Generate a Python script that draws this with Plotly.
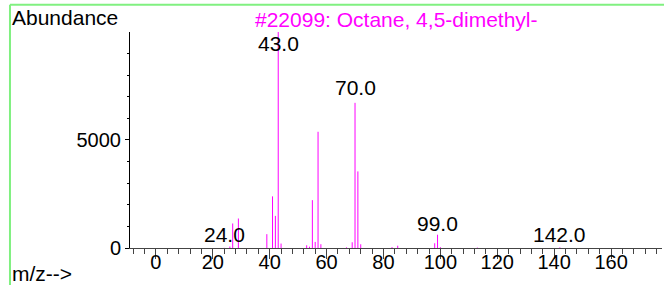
import plotly.graph_objects as go

# Mass spectrum peaks (m/z, abundance)
mz = [24, 26, 27, 29, 39, 41, 42, 43, 44, 53, 54, 55, 56, 57, 58, 67, 69, 70, 71, 72, 83, 85, 98, 99, 100, 113, 142]
abundance = [8, 70, 1135, 1365, 640, 2390, 1485, 9999, 205, 125, 60, 2215, 280, 5380, 175, 30, 265, 6720, 3545, 172, 40, 105, 220, 615, 40, 20, 30]

# Labelled peaks
label_mz = [24, 43, 70, 99, 142]

x_tick_vals = [0, 20, 40, 60, 80, 100, 120, 140, 160]
y_tick_vals = [0, 5000]

title_text = "#22099: Octane, 4,5-dimethyl-"
y_label = "Abundance"
x_label = "m/z-->"

FONT = "Liberation Sans, Arial, sans-serif"
MAG = "#ff00ff"

xs, ys = [], []
for m, a in zip(mz, abundance):
    xs += [m, m, None]
    ys += [0, a, None]

fig = go.Figure()
fig.add_trace(go.Scatter(x=xs, y=ys, mode="lines",
                         line=dict(color=MAG, width=1),
                         hoverinfo="skip", showlegend=False))

ab = dict(zip(mz, abundance))
for m in label_mz:
    a = ab[m]
    if a > 9000:
        shift = -11
    elif a > 5000:
        shift = 15
    elif a > 400:
        shift = 11
    else:
        shift = 13
    fig.add_annotation(x=m, y=a, text=f"{m:.1f}", showarrow=False,
                       yanchor="middle", yshift=shift,
                       font=dict(family=FONT, size=21, color="black"))

fig.add_annotation(xref="paper", yref="paper", x=0.5, y=1.06, text=title_text,
                   showarrow=False, xanchor="center", yanchor="middle",
                   font=dict(family=FONT, size=21, color=MAG))
fig.add_annotation(xref="paper", yref="paper", x=-0.2256, y=1.065, text=y_label,
                   showarrow=False, xanchor="left", yanchor="middle",
                   font=dict(family=FONT, size=21, color="black"))
fig.add_annotation(xref="paper", yref="paper", x=-0.2256, y=-0.118, text=x_label,
                   showarrow=False, xanchor="left", yanchor="middle",
                   font=dict(family=FONT, size=21, color="black"))

# green frame lines
fig.add_shape(type="line", xref="paper", yref="paper", x0=-0.2256, x1=1.01,
              y0=1.1265, y1=1.1265, line=dict(color="#80f080", width=2))
fig.add_shape(type="line", xref="paper", yref="paper", x0=-0.2256, x1=-0.2256,
              y0=1.1265, y1=-0.2, line=dict(color="#80f080", width=2))

fig.update_layout(
    width=664, height=285,
    margin=dict(l=130, r=2, t=32, b=37, autoexpand=False),
    paper_bgcolor="white", plot_bgcolor="white",
    font=dict(family=FONT, size=20, color="black"),
    showlegend=False,
)
fig.update_xaxes(range=[-9.1, 177.9], tickvals=x_tick_vals,
                 ticktext=[str(v) for v in x_tick_vals],
                 automargin=False,
                 showgrid=False, zeroline=False, showline=True,
                 linecolor="#444", linewidth=1,
                 ticks="outside", ticklen=10, tickcolor="#444",
                 ticklabelstandoff=-14,
                 minor=dict(dtick=4, tick0=0, ticks="outside", ticklen=5, tickcolor="#444"),
                 tickfont=dict(family=FONT, size=20, color="black"))
fig.update_yaxes(range=[0, 9999], tickvals=y_tick_vals,
                 ticktext=[str(v) for v in y_tick_vals],
                 automargin=False,
                 showgrid=False, zeroline=False, showline=True,
                 linecolor="black", linewidth=1,
                 ticks="outside", ticklen=4, tickcolor="black",
                 minor=dict(dtick=1000, tick0=0, ticks="outside", ticklen=2, tickcolor="black"),
                 tickfont=dict(family=FONT, size=20, color="black"))

fig.write_html("out.html", config={"displayModeBar": False},
               post_script="document.body.style.margin='0';document.body.style.overflow='hidden';")
